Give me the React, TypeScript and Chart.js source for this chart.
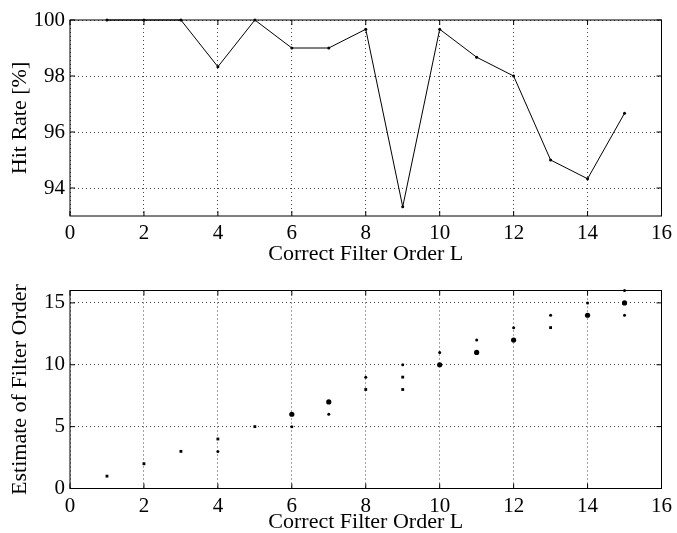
import React, { useEffect, useRef } from 'react';
import { Chart, registerables } from 'chart.js';
Chart.register(...registerables);

// ---- data ----
const filterOrders = [1, 2, 3, 4, 5, 6, 7, 8, 9, 10, 11, 12, 13, 14, 15];
const hitRates = [100, 100, 100, 98.33, 100, 99, 99, 99.67, 93.33, 99.67, 98.67, 98, 95, 94.33, 96.67];
const xTickValues = [0, 2, 4, 6, 8, 10, 12, 14, 16];
const hitRateTicks = [94, 96, 98, 100];
const estimateTicks = [0, 5, 10, 15];
const estCorrectOrder = [1, 2, 3, 4, 4, 5, 6, 6, 7, 7, 8, 8, 9, 9, 9, 10, 10, 11, 11, 12, 12, 13, 13, 14, 14, 15, 15, 15];
const estEstimate = [1, 2, 3, 4, 3, 5, 6, 5, 7, 6, 9, 8, 10, 9, 8, 11, 10, 12, 11, 13, 12, 14, 13, 15, 14, 16, 15, 14];
// relative frequency class of each estimate (1 = rare, 3 = frequent)
const estFrequency = [2, 2, 2, 2, 1, 2, 3, 1, 3, 1, 1, 2, 1, 2, 2, 1, 3, 1, 3, 1, 3, 1, 2, 1, 3, 1, 3, 1];

const FONT = "'Liberation Serif', 'Times New Roman', serif";
const W = 677;

const boxPlugin = {
  id: 'matlabBox',
  afterDraw(chart: any) {
    const { ctx, chartArea, scales } = chart;
    const { left, right, top, bottom } = chartArea;
    const tl = 5;
    ctx.save();
    ctx.strokeStyle = '#000';
    ctx.lineWidth = 1;
    ctx.beginPath();
    scales.x.ticks.forEach((t: any) => {
      const px = scales.x.getPixelForValue(t.value);
      ctx.moveTo(px, bottom);
      ctx.lineTo(px, bottom - tl);
      ctx.moveTo(px, top);
      ctx.lineTo(px, top + tl);
    });
    scales.y.ticks.forEach((t: any) => {
      const py = scales.y.getPixelForValue(t.value);
      ctx.moveTo(left, py);
      ctx.lineTo(left + tl, py);
      ctx.moveTo(right, py);
      ctx.lineTo(right - tl, py);
    });
    ctx.stroke();
    ctx.strokeRect(left, top, right - left, bottom - top);
    ctx.restore();
  },
};

function makeScales(yMin: number, yMax: number, yTicks: number[], yTitle: string, xHeight: number) {
  const grid = {
    color: '#444',
    lineWidth: 1,
    drawTicks: false,
  } as any;
  return {
    x: {
      type: 'linear',
      min: 0,
      max: 16,
      afterBuildTicks: (s: any) => {
        s.ticks = xTickValues.map((v) => ({ value: v }));
      },
      afterFit: (s: any) => {
        s.height = xHeight;
      },
      grid: { ...grid },
      border: { display: false, dash: [1, 3] },
      ticks: { color: '#000', font: { family: FONT, size: 21 }, padding: 5, maxRotation: 0, autoSkip: false },
      title: { display: true, text: 'Correct Filter Order L', color: '#000', font: { family: FONT, size: 22 }, padding: { top: 0, bottom: 3 } },
    },
    y: {
      type: 'linear',
      min: yMin,
      max: yMax,
      afterBuildTicks: (s: any) => {
        s.ticks = yTicks.map((v) => ({ value: v }));
      },
      afterFit: (s: any) => {
        s.width = 70;
      },
      grid: { ...grid },
      border: { display: false, dash: [1, 3] },
      ticks: { color: '#000', font: { family: FONT, size: 21 }, padding: 5, autoSkip: false },
      title: { display: true, text: yTitle, color: '#000', font: { family: FONT, size: 22 }, padding: { top: 7, bottom: 0 } },
    },
  };
}

function HitRateChart() {
  const ref = useRef<HTMLCanvasElement>(null);
  useEffect(() => {
    if (!ref.current) return;
    const chart = new Chart(ref.current, {
      type: 'line',
      data: {
        datasets: [
          {
            data: filterOrders.map((x, i) => ({ x, y: hitRates[i] })),
            borderColor: '#000',
            borderWidth: 1,
            pointRadius: 1.5,
            pointBackgroundColor: '#000',
            pointBorderWidth: 0,
            tension: 0,
            clip: false,
          } as any,
        ],
      },
      options: {
        animation: false,
        responsive: false,
        devicePixelRatio: 1,
        layout: { padding: { top: 20, right: 11.5, bottom: 0, left: 0 } },
        plugins: { legend: { display: false }, tooltip: { enabled: false } },
        scales: makeScales(93, 100, hitRateTicks, 'Hit Rate [%]', 54) as any,
      },
      plugins: [boxPlugin],
    });
    return () => chart.destroy();
  }, []);
  return <canvas ref={ref} width={W} height={270} style={{ position: 'absolute', left: 0, top: 0 }} />;
}

function EstimateChart() {
  const ref = useRef<HTMLCanvasElement>(null);
  useEffect(() => {
    if (!ref.current) return;
    const radius = [0, 1.5, 2.0, 2.6];
    const chart = new Chart(ref.current, {
      type: 'scatter',
      data: {
        datasets: [
          {
            data: estCorrectOrder.map((x, i) => ({ x, y: estEstimate[i] })),
            pointRadius: estFrequency.map((f) => radius[f]),
            pointStyle: estFrequency.map((f) => (f === 2 ? 'rect' : 'circle')),
            pointBackgroundColor: '#000',
            pointBorderWidth: 0,
            showLine: false,
            clip: false,
          } as any,
        ],
      },
      options: {
        animation: false,
        responsive: false,
        devicePixelRatio: 1,
        layout: { padding: { top: 22.5, right: 11.5, bottom: 0, left: 0 } },
        plugins: { legend: { display: false }, tooltip: { enabled: false } },
        scales: makeScales(0, 16, estimateTicks, 'Estimate of Filter Order', 49.5) as any,
      },
      plugins: [boxPlugin],
    });
    return () => chart.destroy();
  }, []);
  return <canvas ref={ref} width={W} height={270} style={{ position: 'absolute', left: 0, top: 268 }} />;
}

export default function App() {
  return (
    <div style={{ position: 'absolute', left: 0, top: 0, width: W, height: 533, overflow: 'hidden', background: '#fff' }}>
      <HitRateChart />
      <EstimateChart />
    </div>
  );
}
